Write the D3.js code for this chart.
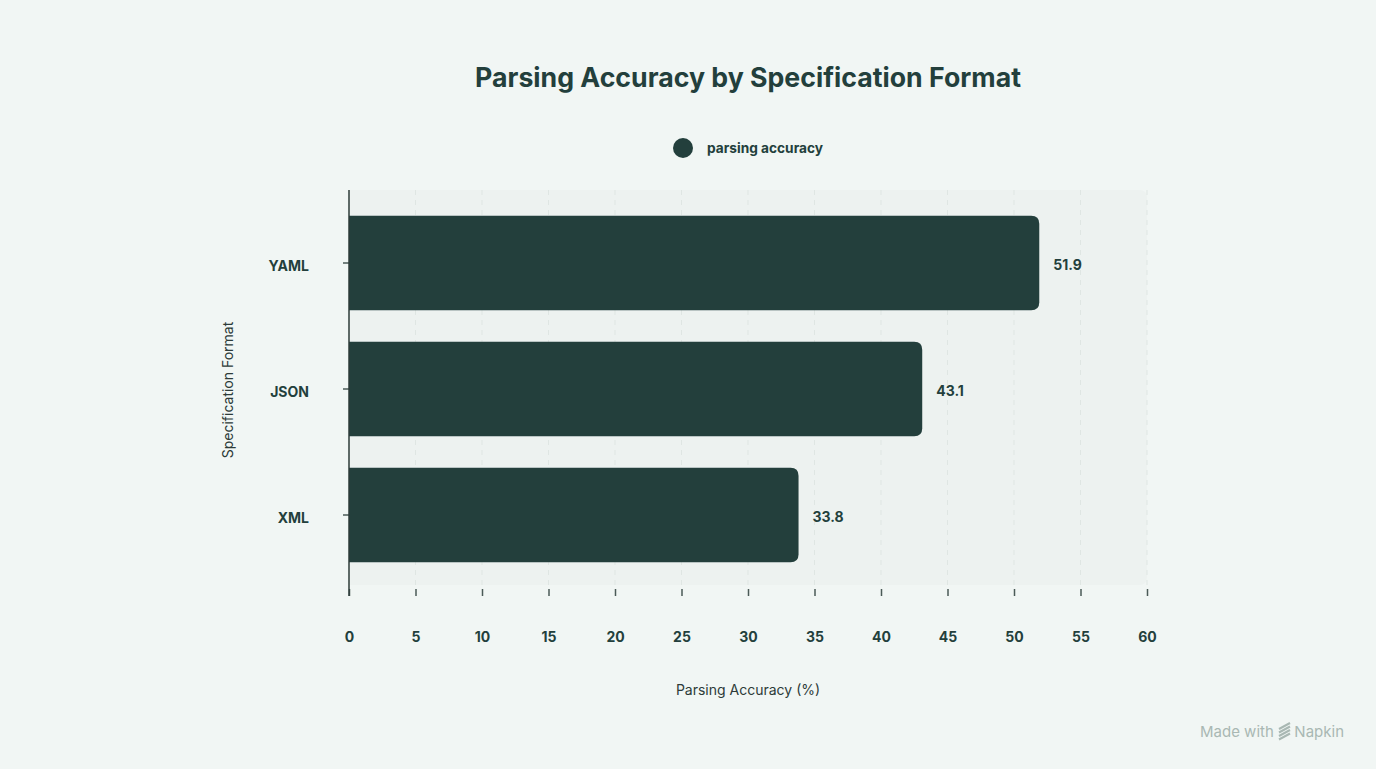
<!DOCTYPE html>
<html>
<head>
<meta charset="utf-8">
<script src="https://cdn.jsdelivr.net/npm/d3@7"></script>
<style>
  html, body { margin: 0; padding: 0; background: #f1f6f4; }
  body { font-family: Inter, Roboto, sans-serif; }
</style>
</head>
<body>
<div id="canvas"></div>
<script>
const categories = ["YAML", "JSON", "XML"];
const values = [51.9, 43.1, 33.8];
const xTicks = [0, 5, 10, 15, 20, 25, 30, 35, 40, 45, 50, 55, 60];

const width = 1376;
const height = 769;
const dark = "#233f3c";
const font = "Inter, Roboto, sans-serif";
const margin = { top: 190, left: 349, bottom: 184, right: 229 };
const iwidth = width - margin.left - margin.right;
const iheight = height - margin.top - margin.bottom;

const svg = d3.select("#canvas").append("svg")
    .attr("width", width)
    .attr("height", height)
    .style("font-family", font);

svg.append("text")
    .attr("x", 748).attr("y", 87)
    .attr("text-anchor", "middle")
    .style("font-size", "26.7px").style("font-weight", 700)
    .style("fill", dark)
    .text("Parsing Accuracy by Specification Format");

// legend
svg.append("circle").attr("cx", 683).attr("cy", 148).attr("r", 10).style("fill", dark);
svg.append("text")
    .attr("x", 707).attr("y", 153)
    .style("font-size", "13.7px").style("font-weight", 700)
    .style("fill", dark)
    .text("parsing accuracy");

const g = svg.append("g").attr("transform", `translate(${margin.left},${margin.top})`);

const x = d3.scaleLinear().domain([0, 60]).range([0, iwidth]);
const y = d3.scaleBand()
    .domain(categories)
    .range([10, 388])
    .paddingInner(0.25)
    .paddingOuter(0.125);

// plot background
g.append("path")
    .attr("d", () => {
        const w = iwidth, h = iheight, r = 8;
        return `M0,0 H${w - r} Q${w},0 ${w},${r} V${h - r} Q${w},${h} ${w - r},${h} H0 Z`;
    })
    .style("fill", "#edf2f0");

// grid
g.selectAll("line.grid").data(xTicks.slice(1)).enter().append("line")
    .attr("class", "grid")
    .attr("x1", d => x(d)).attr("x2", d => x(d))
    .attr("y1", 0).attr("y2", iheight)
    .style("stroke", "#dfe6e3")
    .style("stroke-width", 1)
    .style("stroke-dasharray", "5,5");

// bars
g.selectAll("path.bar").data(values).enter().append("path")
    .attr("class", "bar")
    .attr("d", (d, i) => {
        const y0 = y(categories[i]), h = y.bandwidth(), w = x(d), r = 8;
        return `M0,${y0} H${w - r} Q${w},${y0} ${w},${y0 + r} V${y0 + h - r} Q${w},${y0 + h} ${w - r},${y0 + h} H0 Z`;
    })
    .style("fill", dark);

g.selectAll("text.val").data(values).enter().append("text")
    .attr("class", "val")
    .attr("x", d => x(d) + 14)
    .attr("y", (d, i) => y(categories[i]) + y.bandwidth() / 2 + 7)
    .style("font-size", "14px").style("font-weight", 700)
    .style("fill", dark)
    .text(d => d.toFixed(1));

// x axis
const xAxis = g.append("g")
    .attr("transform", `translate(0, ${iheight + 4})`)
    .call(d3.axisBottom(x).tickValues(xTicks).tickSize(7).tickPadding(36));
xAxis.select(".domain").remove();
xAxis.selectAll("line").style("stroke", "#4a5a57").style("stroke-width", 1.5);
xAxis.selectAll("text")
    .style("font-size", "14px").style("font-weight", 700)
    .style("font-family", font)
    .style("fill", dark);

// y axis
const yAxis = g.append("g")
    .call(d3.axisLeft(y).tickSize(6).tickPadding(34));
yAxis.select(".domain").remove();
yAxis.selectAll("line").style("stroke", "#4a5a57").style("stroke-width", 1.5);
yAxis.selectAll("text")
    .attr("dy", "0.55em")
    .style("font-size", "14px").style("font-weight", 700)
    .style("font-family", font)
    .style("fill", dark);

g.append("line")
    .attr("x1", 0).attr("x2", 0)
    .attr("y1", 0).attr("y2", iheight + 11)
    .style("stroke", "#2d3b39").style("stroke-width", 1.5);

// axis titles
svg.append("text")
    .attr("x", 748).attr("y", 695)
    .attr("text-anchor", "middle")
    .style("font-size", "14px")
    .style("fill", "#2d3b39")
    .text("Parsing Accuracy (%)");

svg.append("text")
    .attr("transform", "translate(233, 390) rotate(-90)")
    .attr("text-anchor", "middle")
    .style("font-size", "14px")
    .style("fill", "#2d3b39")
    .text("Specification Format");

// watermark
svg.append("text")
    .attr("x", 1200).attr("y", 737)
    .style("font-size", "15px")
    .style("fill", "#a9b8b3")
    .text("Made with");
svg.append("text")
    .attr("x", 1344).attr("y", 737)
    .attr("text-anchor", "end")
    .style("font-size", "15px")
    .style("fill", "#a9b8b3")
    .text("Napkin");
svg.append("g").attr("transform", "translate(1278, 724)")
    .selectAll("line").data([0, 1, 2, 3]).enter().append("line")
    .attr("x1", 1).attr("x2", 12)
    .attr("y1", d => 5 + d * 3.5).attr("y2", d => d * 3.5 - 1)
    .style("stroke", "#a9b8b3").style("stroke-width", 2);
</script>
</body>
</html>
